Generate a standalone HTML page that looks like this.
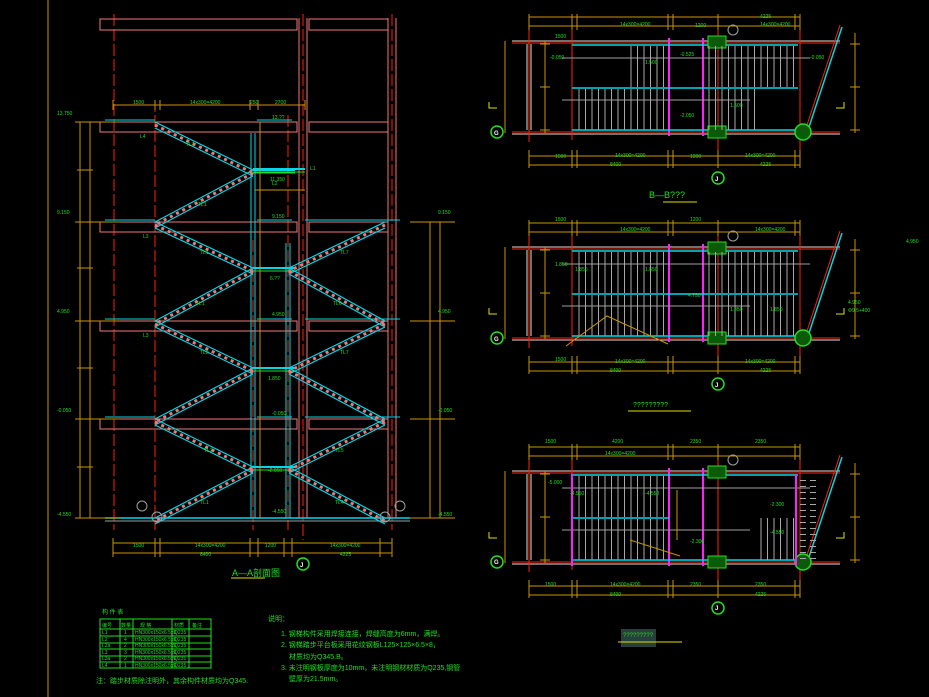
<!DOCTYPE html>
<html><head><meta charset="utf-8"><style>
html,body{margin:0;padding:0;background:#000;width:929px;height:697px;overflow:hidden}
svg{display:block}
text{font-family:"Liberation Sans","Noto Sans CJK SC",sans-serif;fill:#1ee01e}
</style></head><body>
<svg width="929" height="697" viewBox="0 0 929 697" xmlns="http://www.w3.org/2000/svg">
<defs>
<pattern id="tr" patternUnits="userSpaceOnUse" width="6.5" height="10"><rect x="0" y="0" width="1" height="10" fill="#a8a8a8"/></pattern>
<pattern id="trh" patternUnits="userSpaceOnUse" width="10" height="6"><rect x="0" y="0" width="6" height="1" fill="#a8a8a8"/></pattern>
<g id="pl" fill="none">
 <path d="M512 41H840M512 134H840M527 44V130M531 44V130" stroke="#e0e0e0"/>
 <path d="M512 43H840M512 132H840" stroke="#ff2000"/>
 <path d="M529 28V142M572 28V140M718 18V168M800 28V160" stroke="#ff2000"/>
 <path d="M669 38V136M703 38V136" stroke="#ff20ff" stroke-width="2"/>
 <rect x="575" y="89" width="92" height="41" fill="url(#tr)"/>
 <path d="M572 45H798M572 130H798" stroke="#00d8e8" stroke-width="1.5"/>
 <path d="M562 58H810M562 100H750" stroke="#a0a0a0"/>
 <path d="M808 130L842 27" stroke="#00d8e8" stroke-width="1.5"/>
 <path d="M806 128L840 25" stroke="#ff2000"/>
 <circle cx="803" cy="132" r="8" stroke="#20e020" fill="#0a5a0a" stroke-width="1.5"/>
 <rect x="708" y="36" width="18" height="12" stroke="#20e020" fill="#0a5a0a"/>
 <rect x="708" y="126" width="18" height="12" stroke="#20e020" fill="#0a5a0a"/>
 <circle cx="497" cy="132" r="6" stroke="#20e020" stroke-width="1.5"/>
 <circle cx="718" cy="178" r="6" stroke="#20e020" stroke-width="1.5"/>
 <circle cx="733" cy="30" r="5" stroke="#a0a0a0"/>
 <path d="M529 26H800M529 17H800M529 156H800M529 165H800M505 41V133M545 41V133M855 33V133
 M529 14V30M572 14V30M577 14V30M668 14V30M673 14V30M718 14V30M795 14V30M800 14V30
 M529 150V168M572 150V168M577 150V168M668 150V168M673 150V168M718 150V168M795 150V168M800 150V168
 M540 44H550M540 87H550M540 130H550M850 44H860M850 87H860M850 130H860" stroke="#c89600"/>
 <path d="M489 102V108H497M844 102V108H836" stroke="#e0e000"/>
</g>
</defs>
<!-- border -->
<path d="M48 0V697" stroke="#c89600"/>
<!-- elevation columns -->
<path d="M114 14V530M155 100V530M253 240V530M288 115V530M303 14V540M392 14V530" stroke="#ff2000" stroke-dasharray="12 3"/>
<path d="M299 18V518M307 18V518M388 18V518M396 18V518" stroke="#f07878"/>
<g fill="none" stroke="#f07878">
<rect x="100" y="19" width="197" height="11"/><rect x="309" y="19" width="79" height="11"/>
<rect x="100" y="122" width="197" height="10"/><rect x="309" y="122" width="79" height="10"/>
<rect x="100" y="222" width="197" height="10"/><rect x="309" y="222" width="79" height="10"/>
<rect x="100" y="321" width="197" height="10"/><rect x="309" y="321" width="79" height="10"/>
<rect x="100" y="419" width="197" height="10"/><rect x="309" y="419" width="79" height="10"/>
</g>
<path d="M105 120H155M257 120H292M105 220H155M257 220H292M305 220H400M105 319H155M257 319H292M305 319H400M105 417H155M257 417H292M305 417H400" stroke="#00d8e8"/>
<path d="M105 518H410" stroke="#00d8e8" stroke-width="1.5"/><path d="M105 521H410" stroke="#a0a0a0"/>
<!-- landings -->
<path d="M253 170H295M253 268H295M253 368H295M253 467H295M253 169H305" stroke="#00d8e8" stroke-width="2"/>
<path d="M253 173H295M253 271H295M253 371H295M253 470H295M253 172H305" stroke="#20e020"/>
<path d="M251 133V518M255 133V518M286 243V518M290 243V518" stroke="#00d8e8"/>
<!-- flights -->
<path fill="none" stroke="#00d8e8" stroke-width="1.2" d="
M155 122L253 170M155 128L253 176M253 170L155 222M253 176L155 228M155 222L253 268M155 228L253 274M253 268L155 321M253 274L155 327
M155 321L253 368M155 327L253 374M253 368L155 419M253 374L155 425M155 419L253 467M155 425L253 473M253 467L155 518M253 473L155 524
M385 222L289 268M385 228L289 274M289 268L385 321M289 274L385 327M385 321L289 368M385 327L289 374M289 368L385 419M289 374L385 425
M385 419L289 467M385 425L289 473M289 467L385 518M289 473L385 524"/>
<path fill="none" stroke="#f07878" stroke-width="3" stroke-dasharray="3 4" d="
M155 125L253 173M253 173L155 225M155 225L253 271M253 271L155 324M155 324L253 371M253 371L155 422M155 422L253 470M253 470L155 521
M385 225L289 271M289 271L385 324M385 324L289 371M289 371L385 422M385 422L289 470M289 470L385 521"/>
<!-- dims -->
<path fill="none" stroke="#c89600" d="M80 122V518M90 122V518M430 222V518M440 222V518M113 105H305M113 543H392M113 553H392M260 122V518M255 190H305
M113 100V110M155 100V110M160 100V110M250 100V110M258 100V110M305 100V110
M113 538V557M155 538V557M160 538V557M250 538V557M258 538V557M284 538V557M292 538V557M380 538V557M392 538V557
M75 122H120M75 222H120M75 321H120M75 419H120M75 518H120M410 222H455M410 321H455M410 419H455M410 518H455
M77 170H93M77 268H93M77 368H93M77 467H93"/>
<circle cx="157" cy="517" r="5" stroke="#a0a0a0" fill="none"/><circle cx="385" cy="517" r="5" stroke="#a0a0a0" fill="none"/>
<circle cx="142" cy="506" r="5" stroke="#a0a0a0" fill="none"/><circle cx="400" cy="506" r="5" stroke="#a0a0a0" fill="none"/>
<circle cx="303" cy="564" r="6" stroke="#20e020" stroke-width="1.5" fill="none"/>
<!-- table -->
<rect x="100" y="619" width="111" height="49" fill="none" stroke="#20e020"/>
<path d="M120 619V668M133 619V668M172 619V668M189 619V668M100 629H211M100 636H211M100 643H211M100 649H211M100 656H211M100 662H211" stroke="#20e020"/>
<!-- plans -->
<use href="#pl"/>
<rect x="625" y="46" width="42" height="41" fill="url(#tr)"/>
<rect x="706" y="46" width="92" height="41" fill="url(#tr)"/>
<rect x="706" y="89" width="52" height="41" fill="url(#tr)"/>
<path d="M572 88H798" stroke="#00d8e8" stroke-width="1.5"/>
<use href="#pl" y="206"/>
<rect x="575" y="252" width="92" height="41" fill="url(#tr)"/>
<rect x="706" y="252" width="92" height="41" fill="url(#tr)"/>
<rect x="706" y="295" width="92" height="41" fill="url(#tr)"/>
<path d="M572 294H798" stroke="#00d8e8" stroke-width="1.5"/>
<path d="M566 346L607 316L668 344" stroke="#c89600" fill="none"/>
<use href="#pl" y="430"/>
<rect x="575" y="476" width="92" height="41" fill="url(#tr)"/>
<path d="M572 518H669" stroke="#00d8e8" stroke-width="1.5"/>
<path d="M572 474V566M796 474V566" stroke="#ff20ff" stroke-width="2"/>
<rect x="757" y="518" width="39" height="42" fill="url(#tr)"/>
<rect x="800" y="476" width="20" height="84" fill="url(#trh)"/>
<path d="M677 490V540M630 540L680 556" stroke="#c89600" fill="none"/>
<!-- Texts -->
<g font-size="5">
<text x="57" y="115">13.750</text><text x="57" y="214">9.150</text><text x="57" y="313">4.950</text><text x="57" y="412">-0.050</text><text x="57" y="516">-4.550</text>
<text x="133" y="104">1500</text><text x="190" y="104">14x300=4200</text><text x="250" y="104">250</text><text x="275" y="104">2700</text>
<text x="272" y="119">13.??</text><text x="270" y="181">11.350</text><text x="272" y="218">9.150</text><text x="270" y="280">6.??</text><text x="272" y="316">4.950</text><text x="268" y="380">1.850</text><text x="272" y="415">-0.050</text><text x="268" y="472">-2.050</text><text x="272" y="513">-4.550</text>
<text x="438" y="214">9.150</text><text x="438" y="313">4.950</text><text x="438" y="412">-0.050</text><text x="438" y="516">-4.550</text>
<text x="133" y="547">1500</text><text x="195" y="547">14x300=4200</text><text x="265" y="547">1200</text><text x="330" y="547">14x300=4200</text>
<text x="200" y="556">8400</text><text x="340" y="556">4225</text>
<text x="140" y="138">L4</text><text x="186" y="146">TL1</text><text x="198" y="206">TL1</text><text x="143" y="238">L3</text><text x="200" y="254">TL1</text><text x="196" y="305">TL1</text><text x="340" y="254">TL7</text><text x="333" y="305">TL6</text><text x="143" y="337">L3</text><text x="200" y="354">TL2</text><text x="340" y="354">TL7</text>
<text x="204" y="452">TL2</text><text x="200" y="504">TL1</text><text x="335" y="452">TL5</text><text x="335" y="504">TL4</text><text x="310" y="170">L1</text><text x="272" y="185">L2</text>
</g>
<text x="232" y="576" font-size="9">A—A剖面图</text>
<path d="M231 578H265" stroke="#e0e000"/>
<text x="102" y="614" font-size="6">构 件 表</text>
<g font-size="5">
<text x="102" y="627">编号</text><text x="121" y="627">数量</text><text x="140" y="627">规 格</text><text x="174" y="627">材质</text><text x="192" y="627">备注</text>
<text x="102" y="634">L1</text><text x="124" y="634">1</text><text x="135" y="634">HN300x150x6.5x9</text><text x="174" y="634">Q235</text>
<text x="102" y="641">L2</text><text x="124" y="641">4</text><text x="135" y="641">HN300x150x6.5x9</text><text x="174" y="641">Q235</text>
<text x="102" y="647">L2a</text><text x="124" y="647">2</text><text x="135" y="647">HN300x150x6.5x9</text><text x="174" y="647">Q235</text>
<text x="102" y="654">L3</text><text x="124" y="654">3</text><text x="135" y="654">HN300x150x6.5x9</text><text x="174" y="654">Q235</text>
<text x="102" y="660">L3a</text><text x="124" y="660">2</text><text x="135" y="660">HN300x150x6.5x9</text><text x="174" y="660">Q235</text>
<text x="102" y="667">L4</text><text x="124" y="667">1</text><text x="135" y="667">HN300x150x6.5x9</text><text x="174" y="667">Q235</text>
</g>
<text x="96" y="683" font-size="7">注：踏步材质除注明外，其余构件材质均为Q345.</text>
<g font-size="7">
<text x="268" y="621">说明：</text>
<text x="281" y="636">1. 钢梯构件采用焊接连接，焊缝高度为6mm，满焊。</text>
<text x="281" y="647">2. 钢梯踏步平台板采用花纹钢板L125×125×6.5×8，</text>
<text x="289" y="659">材质均为Q345.B。</text>
<text x="281" y="670">3. 未注明钢板厚度为10mm，未注明钢材材质为Q235,钢管</text>
<text x="289" y="681">壁厚为21.5mm。</text>
</g>
<text x="649" y="198" font-size="9">B—B???</text>
<path d="M663 202H697" stroke="#e0e000"/>
<text x="633" y="407" font-size="7">?????????</text>
<path d="M628 411H691" stroke="#e0e000"/>
<rect x="621" y="629" width="35" height="18" fill="#2a3e3e"/>
<path d="M618 642H682" stroke="#e0e000"/>
<text x="623" y="637" font-size="6">?????????</text>
<g font-size="5">
<text x="555" y="38">1500</text><text x="620" y="26">14x300=4200</text><text x="695" y="27">1200</text><text x="760" y="26">14x300=4200</text><text x="760" y="18">4225</text>
<text x="555" y="158">1500</text><text x="615" y="157">14x300=4200</text><text x="690" y="158">1200</text><text x="745" y="157">14x300=4200</text><text x="610" y="166">8400</text><text x="760" y="166">4225</text>
<text x="550" y="59">-0.050</text><text x="680" y="56">-0.525</text><text x="810" y="59">-0.050</text><text x="645" y="64">1.500</text><text x="680" y="117">-2.050</text><text x="730" y="107">1.500</text>
<text x="555" y="221">1500</text><text x="620" y="231">14x300=4200</text><text x="690" y="221">1200</text><text x="755" y="231">14x300=4200</text>
<text x="555" y="361">1500</text><text x="615" y="363">14x300=4200</text><text x="745" y="363">14x300=4200</text><text x="610" y="372">8400</text><text x="760" y="372">4225</text>
<text x="555" y="266">1.850</text><text x="575" y="271">1.850</text><text x="645" y="271">1.850</text><text x="730" y="311">1.850</text><text x="770" y="311">1.850</text><text x="688" y="297">4.750</text>
<text x="848" y="304">4.950</text><text x="848" y="312">Φ9.5+400</text>
<text x="545" y="443">1500</text><text x="612" y="443">4200</text><text x="690" y="443">2350</text><text x="755" y="443">2350</text>
<text x="605" y="455">14x300=4200</text>
<text x="545" y="586">1500</text><text x="610" y="586">14x300=4200</text><text x="690" y="586">2350</text><text x="755" y="586">2350</text><text x="610" y="596">8400</text><text x="755" y="596">4225</text>
<text x="548" y="484">-5.000</text><text x="570" y="495">-4.550</text><text x="645" y="495">-4.550</text><text x="690" y="543">-2.300</text><text x="770" y="534">-4.550</text><text x="770" y="506">-2.300</text>
<text x="906" y="243">4.950</text>
</g>
<g font-size="6" font-weight="bold" style="fill:#fff">
<text x="494" y="135" style="fill:#fff">G</text><text x="715" y="181" style="fill:#fff">J</text>
<text x="494" y="341" style="fill:#fff">G</text><text x="715" y="387" style="fill:#fff">J</text>
<text x="494" y="564" style="fill:#fff">G</text><text x="715" y="610" style="fill:#fff">J</text>
<text x="300" y="567" style="fill:#fff">J</text>
</g>
</svg>
</body></html>
